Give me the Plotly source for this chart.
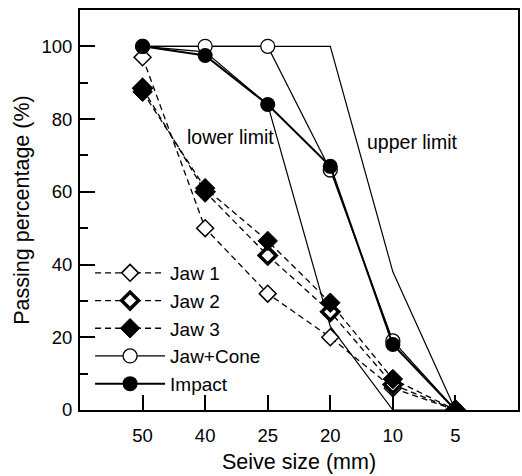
import plotly.graph_objects as go

sizes = ["50", "40", "25", "20", "10", "5"]
jaw1 = [97, 50, 32, 20, 6, 0]
jaw2 = [88.5, 60, 42.5, 27, 7, 0]
jaw3 = [87.5, 61, 46.5, 29.5, 8.5, 0]
jaw_cone = [100, 100, 100, 66, 19, 0]
impact = [100, 97.5, 84, 67, 18, 0]
upper_limit = [100, 100, 100, 100, 38, 0]
lower_limit = [100, 98.5, 84, 23, 0, 0]

FONT = "Liberation Sans, Arial, sans-serif"
fig = go.Figure()

fig.add_trace(go.Scatter(x=sizes, y=upper_limit, mode="lines", showlegend=False,
                         line=dict(color="black", width=1.2)))
fig.add_trace(go.Scatter(x=sizes, y=lower_limit, mode="lines", showlegend=False,
                         line=dict(color="black", width=1.2)))

fig.add_trace(go.Scatter(x=sizes, y=jaw1, mode="lines+markers", name="Jaw 1",
                         line=dict(color="black", width=1.3, dash="6px,4px"),
                         marker=dict(symbol="diamond", size=13, color="white",
                                     line=dict(color="black", width=1.5))))
fig.add_trace(go.Scatter(x=sizes, y=jaw2, mode="lines+markers", name="Jaw 2",
                         line=dict(color="black", width=1.3, dash="6px,4px"),
                         marker=dict(symbol="diamond", size=13, color="white",
                                     line=dict(color="black", width=3.5))))
fig.add_trace(go.Scatter(x=sizes, y=jaw3, mode="lines+markers", name="Jaw 3",
                         line=dict(color="black", width=1.3, dash="6px,4px"),
                         marker=dict(symbol="diamond", size=15, color="black",
                                     line=dict(color="black", width=1))))
fig.add_trace(go.Scatter(x=sizes, y=jaw_cone, mode="lines+markers", name="Jaw+Cone",
                         line=dict(color="black", width=1.2),
                         marker=dict(symbol="circle", size=14, color="white",
                                     line=dict(color="black", width=1.3))))
fig.add_trace(go.Scatter(x=sizes, y=impact, mode="lines+markers", name="Impact",
                         line=dict(color="black", width=2),
                         marker=dict(symbol="circle", size=15, color="black")))

fig.add_annotation(x=(230 - 80) / 438, y=(410 - 137) / 400, xref="paper", yref="paper",
                   xanchor="center", yanchor="middle",
                   text="lower limit", showarrow=False,
                   font=dict(family=FONT, size=19.5, color="black"))
fig.add_annotation(x=(412 - 80) / 438, y=(410 - 142) / 400, xref="paper", yref="paper",
                   xanchor="center", yanchor="middle",
                   text="upper limit", showarrow=False,
                   font=dict(family=FONT, size=19.5, color="black"))

fig.update_layout(
    width=522, height=476,
    margin=dict(l=80, r=4, t=10, b=66),
    paper_bgcolor="white", plot_bgcolor="white",
    font=dict(family=FONT, size=18.5, color="black"),
    showlegend=True,
    legend=dict(x=0.023, y=0.39, xanchor="left", yanchor="top",
                bgcolor="rgba(0,0,0,0)", font=dict(family=FONT, size=19),
                itemwidth=70, tracegroupgap=0),
    xaxis=dict(type="category", categoryorder="array", categoryarray=sizes,
               range=[-1, 6], showgrid=False, zeroline=False, automargin=False,
               showline=True, linecolor="black", linewidth=2, mirror=True,
               ticks="inside", ticklen=15, tickwidth=2, tickcolor="black",
               tickfont=dict(size=18.5), ticklabelstandoff=8,
               title=dict(text="Seive size (mm)", font=dict(size=21.5), standoff=9)),
    yaxis=dict(range=[0, 110], showgrid=False, zeroline=False, automargin=False,
               showline=True, linecolor="black", linewidth=2, mirror=True,
               tickvals=[0, 20, 40, 60, 80, 100],
               ticks="inside", ticklen=15, tickwidth=2, tickcolor="black",
               tickfont=dict(size=18.5), ticklabelstandoff=2,
               minor=dict(tickvals=[10, 30, 50, 70, 90], ticks="inside", ticklen=8,
                          tickwidth=2, tickcolor="black"),
               title=dict(text="Passing percentage (%)", font=dict(size=21.5), standoff=6)),
)

fig.write_html("out.html", config={"displayModeBar": False},
               post_script="document.body.style.margin='0px';document.body.style.padding='0px';")
